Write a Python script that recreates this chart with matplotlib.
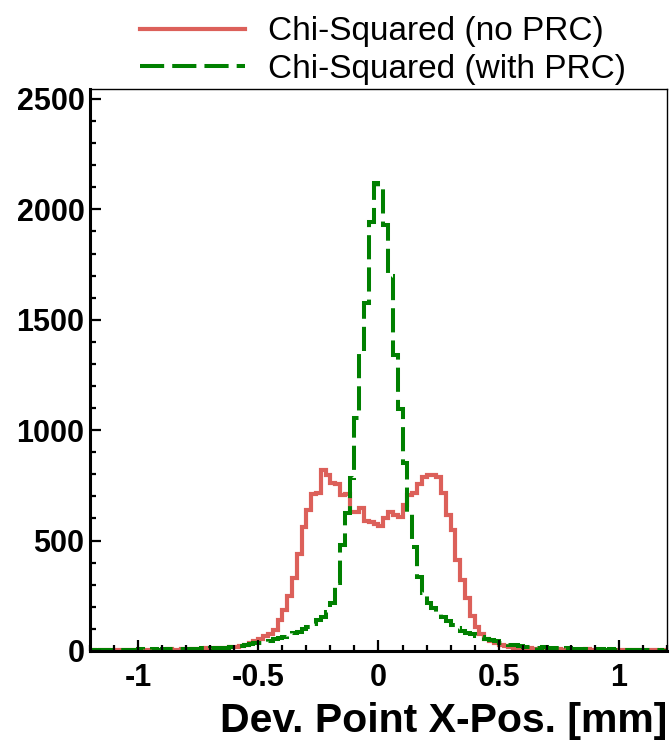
import numpy as np
import matplotlib
matplotlib.use('Agg')
import matplotlib.pyplot as plt
from matplotlib.ticker import MultipleLocator

plt.rcParams['font.family'] = ['Liberation Sans', 'DejaVu Sans']

# histogram binning: 120 bins of 0.02 mm from -1.2 to 1.2
x_min, x_max, n_bins = -1.2, 1.2, 120

# counts per bin
no_prc = [
    3, 2, 4, 3, 2, 5, 3, 4, 3, 5, 4, 6, 3, 5, 6, 4, 7, 5, 6, 8,
    6, 9, 7, 10, 12, 10, 13, 15, 14, 18,
    20, 22, 28, 38, 45, 52, 68, 75, 95, 140,
    185, 250, 330, 440, 560, 640, 710, 715, 820, 797,
    760, 755, 707, 712, 631, 628, 646, 590, 586, 575,
    565, 600, 630, 615, 605, 660, 705, 715, 755, 790,
    795, 795, 790, 715, 616, 550, 412, 322, 240, 160,
    110, 75, 55, 45, 35, 28, 22, 18, 15, 12,
    10, 12, 8, 9, 7, 8, 6, 9, 5, 7, 6, 4, 6, 8, 5, 4, 6, 3, 5, 4,
    3, 5, 2, 4, 3, 2, 4, 3, 2, 3,
]
with_prc = [
    4, 3, 5, 4, 6, 3, 5, 4, 6, 5, 7, 5, 6, 8, 6, 7, 9, 7, 8, 10,
    9, 11, 10, 12, 11, 13, 14, 13, 15, 17,
    20, 23, 26, 30, 34, 38, 42, 47, 53, 57,
    65, 72, 80, 88, 98, 110, 122, 140, 155, 178,
    216, 306, 480, 623, 782, 1054, 1356, 1575, 1944, 2121,
    2103, 1929, 1698, 1340, 1095, 850, 623, 472, 337, 261,
    216, 193, 170, 155, 137, 118, 103, 92, 83, 77,
    68, 62, 56, 50, 45, 38, 33, 28, 25, 22,
    20, 18, 17, 15, 16, 13, 14, 12, 11, 12, 10, 9, 10, 8, 9, 7, 8, 6, 7, 5,
    6, 5, 4, 5, 3, 4, 3, 4, 3, 2,
]
labels = ['Chi-Squared (no PRC)', 'Chi-Squared (with PRC)']

edges = np.linspace(x_min, x_max, n_bins + 1)

fig = plt.figure(figsize=(6.7, 7.41), dpi=100)
ax = fig.add_axes([0.1343, 0.1215, 0.8612, 0.7584])

h1 = ax.stairs(no_prc, edges, color='#dc605a', linewidth=3.0, label=labels[0])
h2 = ax.stairs(with_prc, edges, color='#008000', linewidth=2.9,
               linestyle=(0, (6, 2)), label=labels[1])

ax.set_xlim(x_min, x_max)
ax.set_ylim(0, 2545)

# ROOT-like axes: ticks inside, only left and bottom
ax.xaxis.set_major_locator(MultipleLocator(0.5))
ax.xaxis.set_minor_locator(MultipleLocator(0.1))
ax.yaxis.set_major_locator(MultipleLocator(500))
ax.yaxis.set_minor_locator(MultipleLocator(100))
ax.xaxis.set_major_formatter(plt.FuncFormatter(lambda v, p: f'{v:g}'))
ax.tick_params(which='both', direction='in', top=False, right=False,
               width=1.6, labelsize=22)
ax.tick_params(which='major', length=8)
ax.tick_params(which='minor', length=4.5)
ax.tick_params(axis='x', pad=9)
ax.tick_params(axis='y', pad=4)
for lab in ax.get_xticklabels() + ax.get_yticklabels():
    lab.set_fontweight('bold')

for side in ['left', 'bottom']:
    ax.spines[side].set_linewidth(2.2)
for side in ['top', 'right']:
    ax.spines[side].set_linewidth(1.0)

fig.text(667 / 670, 0.012, 'Dev. Point X-Pos. [mm]', ha='right', va='baseline',
         fontsize=29.5, fontweight='bold')

ax.legend(handles=[h1, h2], loc='upper left', bbox_to_anchor=(0.209, 0.978),
          bbox_transform=fig.transFigure, frameon=False, fontsize=24,
          handlelength=3.15, handletextpad=0.69, borderpad=0, borderaxespad=0,
          labelspacing=0.2)

fig.savefig('out.png', dpi=100)
